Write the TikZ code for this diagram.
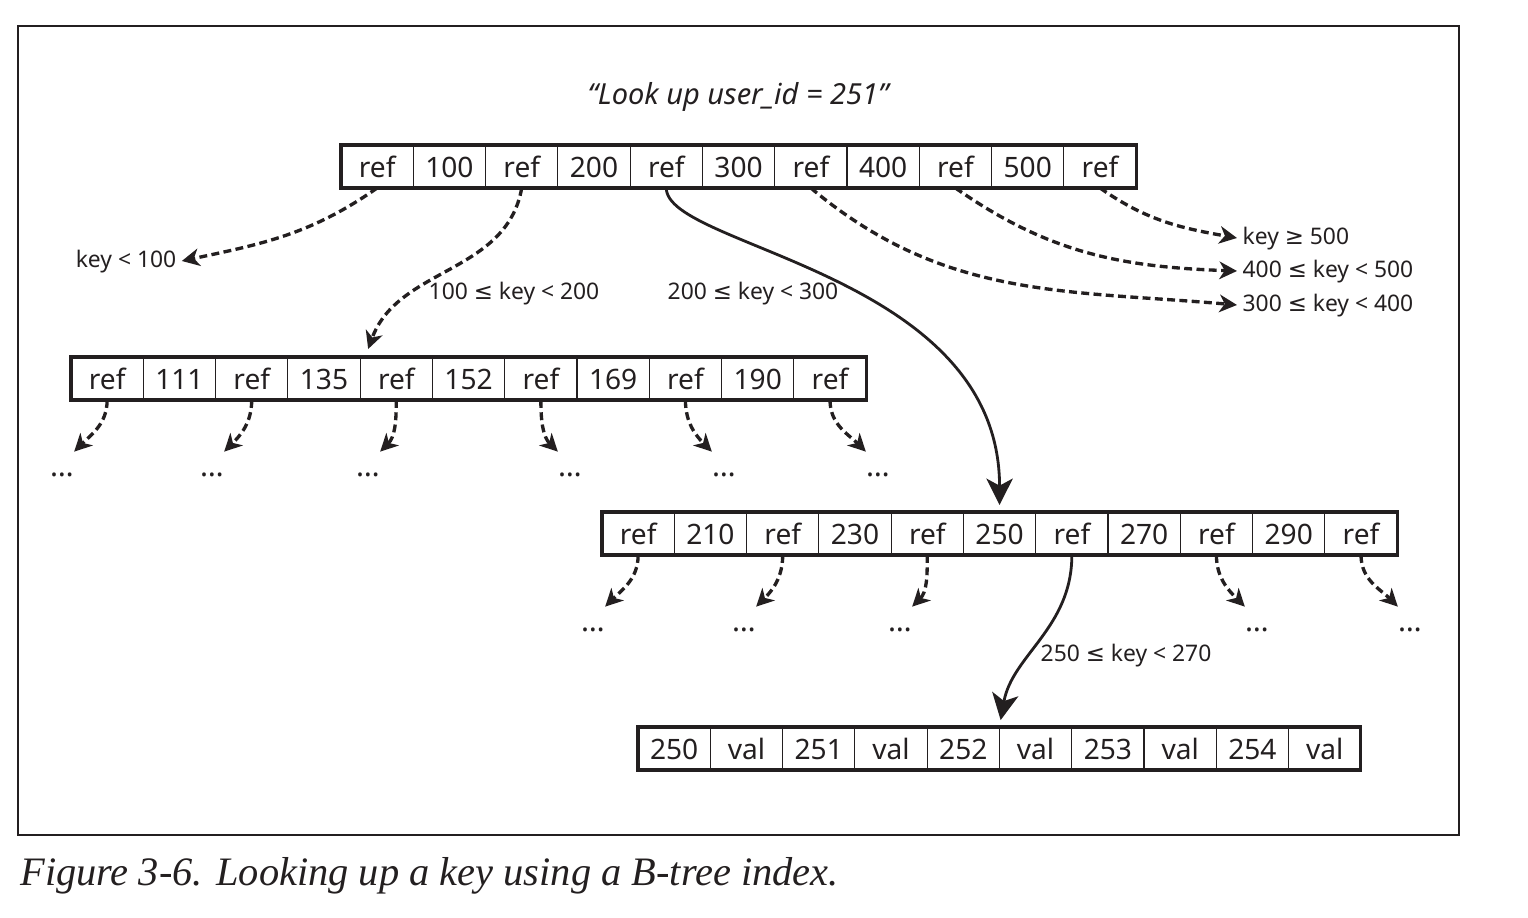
\documentclass[tikz,border=0pt]{standalone}
\usepackage{fontspec}
\setmainfont{Noto Sans}
\newfontfamily\captionfont{Liberation Serif}
\newfontfamily\symfont{DejaVu Sans}
\newcommand\leqsym{{\symfont ≤}}
\newcommand\geqsym{{\symfont ≥}}
\usetikzlibrary{positioning,arrows.meta}
\definecolor{ink}{RGB}{35,31,32}
\tikzstyle{cell} = [draw=ink, line width=0.7pt, minimum width=1.446cm, minimum height=0.86cm, inner sep=0pt, outer sep=0pt, text height=14pt, text depth=2pt, font=\fontsize{16}{19}\selectfont]
\tikzstyle{outline} = [draw=ink, line width=1.8pt]
\tikzstyle{rangetext} = [inner sep=3pt, text height=10pt, text depth=3pt, font=\fontsize{13}{15}\selectfont]
\tikzstyle{dotsnode} = [inner sep=0pt, minimum height=0.92cm, font=\fontsize{17}{19}\selectfont]
\tikzstyle{dashedarrow} = [draw=ink, line width=1.9pt, dash pattern=on 4.5pt off 2.5pt, -{Stealth[length=10pt, width=10pt, inset=3pt]}]
\tikzstyle{searcharrow} = [draw=ink, line width=1.6pt, -{Stealth[length=15pt, width=15pt, inset=4pt]}]

\begin{document}
\begin{tikzpicture}[x=0.02cm, y=0.02cm, text=ink]
        \useasboundingbox (0,0) rectangle (1528,-918);
        %Frame and titles
        \draw[ink, line width=0.6pt] (18,-26) rectangle (1459,-835);
        \node[anchor=base, inner sep=0pt, font=\itshape\fontsize{16.5}{19}\selectfont] (title) at (738,-105) {“Look up user\_id = 251”};
        \node[anchor=base west, inner sep=0pt, font=\captionfont\itshape\fontsize{23}{27}\selectfont] (caption) at (20,-885) {Figure 3-6. Looking up a key using a B-tree index.};
        %Root page
        \node [cell, anchor=west] (r0) at (341,-166.5) {ref};
        \foreach \t [count=\i] in {100,ref,200,ref,300,ref,400,ref,500,ref} {
            \pgfmathtruncatemacro\j{\i-1}
            \node [cell, right=0pt of r\j] (r\i) {\t};
        }
        \draw[outline] (r0.north west) rectangle (r10.south east);
        %Page for 100..200
        \node [cell, anchor=west] (a0) at (71,-378.5) {ref};
        \foreach \t [count=\i] in {111,ref,135,ref,152,ref,169,ref,190,ref} {
            \pgfmathtruncatemacro\j{\i-1}
            \node [cell, right=0pt of a\j] (a\i) {\t};
        }
        \draw[outline] (a0.north west) rectangle (a10.south east);
        %Page for 200..300
        \node [cell, anchor=west] (m0) at (602,-533.5) {ref};
        \foreach \t [count=\i] in {210,ref,230,ref,250,ref,270,ref,290,ref} {
            \pgfmathtruncatemacro\j{\i-1}
            \node [cell, right=0pt of m\j] (m\i) {\t};
        }
        \draw[outline] (m0.north west) rectangle (m10.south east);
        %Leaf page
        \node [cell, anchor=west] (l0) at (638,-748.5) {250};
        \foreach \t [count=\i] in {val,251,val,252,val,253,val,254,val} {
            \pgfmathtruncatemacro\j{\i-1}
            \node [cell, right=0pt of l\j] (l\i) {\t};
        }
        \draw[outline] (l0.north west) rectangle (l9.south east);
        %Key ranges
        \node [rangetext] (k100) at (126,-261) {key < 100};
        \node [rangetext] (k200) at (514,-293) {100 \leqsym{} key < 200};
        \node [rangetext] (k300) at (753,-293) {200 \leqsym{} key < 300};
        \node [rangetext, anchor=west] (k500) at (1237,-238) {key \geqsym{} 500};
        \node [rangetext, anchor=west] (k450) at (1237,-271) {400 \leqsym{} key < 500};
        \node [rangetext, anchor=west] (k350) at (1237,-305) {300 \leqsym{} key < 400};
        \node [rangetext] (k270) at (1126,-655) {250 \leqsym{} key < 270};
        %Dots
        \foreach \x [count=\i from 0] in {62,212,368,570,724,878}
            \node [dotsnode] (dA\i) at (\x,-475) {…};
        \foreach \x [count=\i from 0] in {593,744,900,1257,1410}
            \node [dotsnode] (dM\i) at (\x,-630) {…};
        %Arrows
        \draw[dashedarrow] (r0.south) to[out=-145, in=12] (k100.east);
        \draw[dashedarrow] (r2.south) to[out=-100, in=70] ([shift={(8,8)}]a4.north west);
        \draw[searcharrow, shorten >=4pt] (r4.south) to[out=-90, in=90, out distance=1.2cm, in distance=4.8cm] (m5.north);
        \draw[dashedarrow] (r6.south) to[out=-40, in=175] (k350.west);
        \draw[dashedarrow] (r8.south) to[out=-35, in=178] (k450.west);
        \draw[dashedarrow] (r10.south) to[out=-35, in=170] (k500.west);
        \foreach \c/\d in {0/0,2/1,4/2}
            \draw[dashedarrow] (a\c.south) to[out=-90, in=45] (dA\d.north east);
        \foreach \c/\d in {6/3,8/4,10/5}
            \draw[dashedarrow] (a\c.south) to[out=-90, in=135] (dA\d.north west);
        \foreach \c/\d in {0/0,2/1,4/2}
            \draw[dashedarrow] (m\c.south) to[out=-90, in=45] (dM\d.north east);
        \foreach \c/\d in {8/3,10/4}
            \draw[dashedarrow] (m\c.south) to[out=-90, in=135] (dM\d.north west);
        \draw[searcharrow, shorten >=4pt] (m6.south) to[out=-90, in=80] (l4.north east);
\end{tikzpicture}
\end{document}
